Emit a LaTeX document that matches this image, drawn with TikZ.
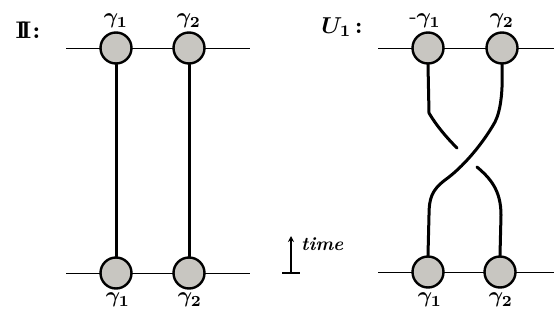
\documentclass[tikz,border=0pt]{standalone}
\usepackage{amssymb}
\usepackage{graphicx}
\usetikzlibrary{arrows.meta}
\newcommand\BigLab[2]{\scalebox{#1}{#2}}
\begin{document}
\begin{tikzpicture}[x=1pt,y=-1pt,
  site/.style={circle,draw=black,fill={rgb,255:red,200;green,198;blue,193},line width=2.4pt,minimum size=31pt,inner sep=0pt},
  leg/.style={line width=0.9pt},
  strand/.style={line width=3pt,line cap=round,line join=round},
  lab/.style={font=\boldmath,inner sep=0pt},
  big/.style={font=\boldmath\bfseries,inner sep=0pt}]
\useasboundingbox (0,0) rectangle (554,324);
% horizontal legs
\coordinate (lt0) at (66,48); \coordinate (lt1) at (250,48);
\coordinate (lb0) at (66,273); \coordinate (lb1) at (250,273);
\coordinate (rt0) at (378,48); \coordinate (rt1) at (554,48);
\coordinate (rb0) at (378,272); \coordinate (rb1) at (554,272);
\draw[leg] (lt0) -- (lt1);
\draw[leg] (lb0) -- (lb1);
\draw[leg] (rt0) -- (rt1);
\draw[leg] (rb0) -- (rb1);
% sites
\node[site] (a1) at (116,48) {};
\node[site] (a2) at (189,48) {};
\node[site] (c1) at (116,273) {};
\node[site] (c2) at (189,273) {};
\node[site] (p1) at (428,48) {};
\node[site] (p2) at (502,48) {};
\node[site] (q1) at (428,272) {};
\node[site] (q2) at (500,272) {};
% identity strands
\draw[strand] (a1.south) -- (c1.north);
\draw[strand] (a2.south) -- (c2.north);
% braid: under strand
\coordinate (u1) at (457,148);
\coordinate (u2) at (477,167);
\draw[strand] (p1.south) -- (429,113) .. controls (436,125) and (446,137) .. (u1);
\draw[strand] (u2) .. controls (490,178) and (501,190) .. (501,215) -- (q2.north);
% braid: over strand
\draw[strand] (p2.south) .. controls (503,90) and (501,110) .. (495,122)
  .. controls (482,145) and (462,168) .. (445,180)
  .. controls (432,190) and (429,198) .. (429,215) -- (q1.north);
% labels
\node[lab] (la1) at (116,21) {\BigLab{2.2}{$\gamma_1$}};
\node[lab] (la2) at (189,21) {\BigLab{2.2}{$\gamma_2$}};
\node[lab] (lc1) at (118,300) {\BigLab{2.2}{$\gamma_1$}};
\node[lab] (lc2) at (190,300) {\BigLab{2.2}{$\gamma_2$}};
\node[lab] (lp1) at (425,21) {\BigLab{2.2}{-$\gamma_1$}};
\node[lab] (lp2) at (502,21) {\BigLab{2.2}{$\gamma_2$}};
\node[lab] (lq1) at (430,300) {\BigLab{2.2}{$\gamma_1$}};
\node[lab] (lq2) at (501,300) {\BigLab{2.2}{$\gamma_2$}};
\node[big] (id) at (28,30) {\BigLab{2.4}{I\kern-.22em I\kern.05em:}};
\node[big] (U) at (342,27) {\BigLab{2.3}{$U_1$\,:}};
% time arrow
\coordinate (tb) at (291,273);
\coordinate (tt) at (291,236);
\draw[line width=1.6pt,-{Stealth[length=6pt,width=6pt]}] (tb) -- (tt);
\draw[line width=1.6pt] (282,273) -- (300,273);
\node[font=\bfseries,anchor=west,inner sep=0pt] (time) at (301,244) {\BigLab{1.9}{\textit{time}}};
\end{tikzpicture}
\end{document}
